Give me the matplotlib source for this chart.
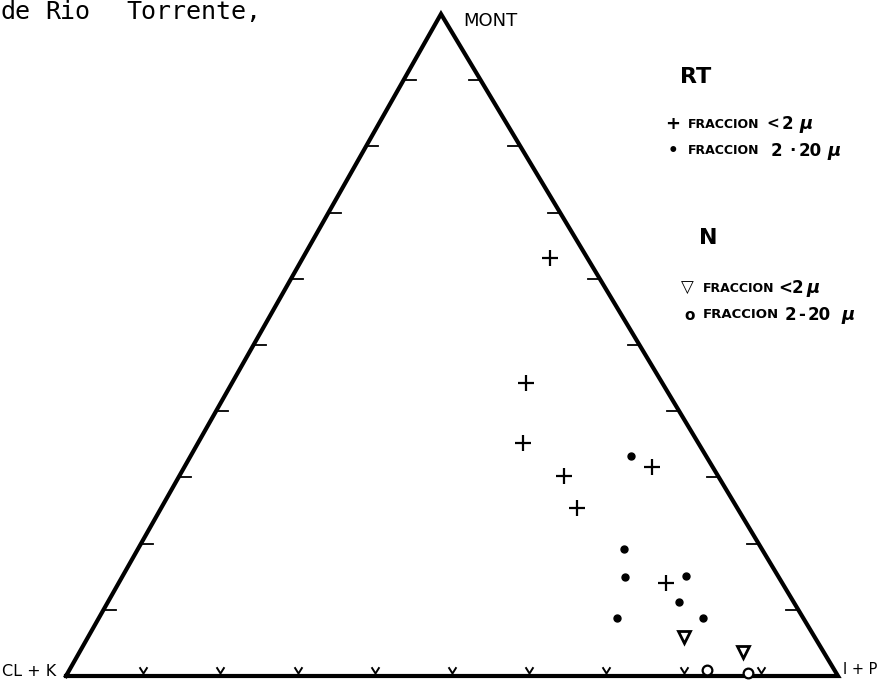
import numpy as np
import matplotlib.pyplot as plt
from matplotlib.path import Path

# Percentages (MONT and I+P; CL+K is the rest)
rt_fine_mont = [63.1, 44.3, 35.2, 30.2, 31.6, 25.4, 14.0]
rt_fine_ip = [32.1, 38.1, 42.1, 49.9, 60.6, 53.9, 70.9]

rt_coarse_mont = [33.2, 19.2, 15.0, 15.1, 11.2, 8.8, 8.8]
rt_coarse_ip = [57.0, 62.9, 65.1, 73.0, 74.0, 67.1, 78.2]

n_fine_mont = [5.9, 3.6]
n_fine_ip = [77.2, 85.9]

n_coarse_mont = [0.9, 0.4]
n_coarse_ip = [82.6, 88.2]

corner_labels = ["MONT", "CL + K", "I + P"]
tick_steps = np.arange(10, 100, 10)

# the printed triangle is slightly skewed: apex is left of the base centre
apex_x = 375 / 772


def to_xy(mont, ip):
    m = np.asarray(mont) / 100.0
    i = np.asarray(ip) / 100.0
    return i + m * apex_x, m


def put_line(pieces, y):
    # pieces: (text, left x in px, font size, style)
    for txt, px, fs, st in pieces:
        fig.text(px / 880, 1 - y / 683, txt, fontsize=fs, fontweight='bold',
                 style=st, va='center', family='DejaVu Sans')


fig = plt.figure(figsize=(8.8, 6.83), dpi=100)
ax = fig.add_axes([66 / 880, 7 / 683, 772 / 880, 662 / 683])
ax.set_xlim(0, 1)
ax.set_ylim(0, 1)
ax.axis('off')

# Triangle frame
ax.plot([0, 1, apex_x, 0], [0, 0, 1, 0], color='black', lw=3, clip_on=False,
        solid_joinstyle='miter')

# Ticks every 10 %
vmark = Path([(-1, 1.6), (0, 0), (1, 1.6)], [Path.MOVETO, Path.LINETO, Path.LINETO])
tx = tick_steps / 100.0
ax.plot(tx, np.full_like(tx, 0.004), ls='none', marker=vmark, ms=9,
        mfc='none', mec='black', mew=1.4, clip_on=False)
tl = 12 / 772
for t in tx:
    xl = t * apex_x
    xr = 1 - t * (1 - apex_x)
    ax.plot([xl, xl + tl], [t, t], color='black', lw=1.3, clip_on=False)
    ax.plot([xr - tl, xr], [t, t], color='black', lw=1.3, clip_on=False)

# Data points
x, y = to_xy(rt_fine_mont, rt_fine_ip)
ax.plot(x, y, ls='none', marker='+', ms=11, mew=1.6, color='black', clip_on=False)
x, y = to_xy(rt_coarse_mont, rt_coarse_ip)
ax.plot(x, y, ls='none', marker='o', ms=5, color='black', clip_on=False)
x, y = to_xy(n_fine_mont, n_fine_ip)
ax.plot(x, y, ls='none', marker='v', ms=9, mfc='white', mec='black', mew=2,
        clip_on=False)
x, y = to_xy(n_coarse_mont, n_coarse_ip)
ax.plot(x, y, ls='none', marker='o', ms=7, mfc='white', mec='black', mew=1.6,
        clip_on=False)

# Corner labels
fig.text(463 / 880, 1 - 21 / 683, corner_labels[0], fontsize=13, va='center')
fig.text(2 / 880, 1 - 671 / 683, corner_labels[1], fontsize=11.5, va='center')
fig.text(843 / 880, 1 - 669 / 683, corner_labels[2], fontsize=10.5, va='center')

# Legend block
fig.text(696 / 880, 1 - 77 / 683, "RT", fontsize=16, fontweight='bold',
         ha='center', va='center')
put_line([("+", 665, 13, 'normal'), ("FRACCION", 688, 9, 'normal'),
          ("<", 766, 11, 'normal'), ("2", 782, 12, 'normal'),
          ("μ", 799, 13, 'italic')], 124)
put_line([("•", 668, 12, 'normal'), ("FRACCION", 688, 9, 'normal'),
          ("2", 771, 12, 'normal'), ("·", 789, 12, 'normal'),
          ("20", 799, 12, 'normal'), ("μ", 827, 13, 'italic')], 151)

fig.text(708 / 880, 1 - 238 / 683, "N", fontsize=16, fontweight='bold',
         ha='center', va='center')
put_line([("▽", 681, 12, 'normal'), ("FRACCION", 703, 9, 'normal'),
          ("<2", 778, 12, 'normal'), ("μ", 806, 13, 'italic')], 288)
put_line([("o", 684, 11, 'normal'), ("FRACCION", 703, 9.5, 'normal'),
          ("2", 785, 12, 'normal'), ("-", 798, 12, 'normal'),
          ("20", 808, 12, 'normal'), ("μ", 841, 13, 'italic')], 315)

# Caption fragment at the top left (wide, spaced type)
for word, px in [("de", 0), ("Rio", 45), ("Torrente,", 126)]:
    fig.text(px / 880, 1 - 19 / 683, word, fontsize=18, va='baseline',
             family='DejaVu Sans Mono')

fig.savefig('out.png', dpi=100, facecolor='white')
